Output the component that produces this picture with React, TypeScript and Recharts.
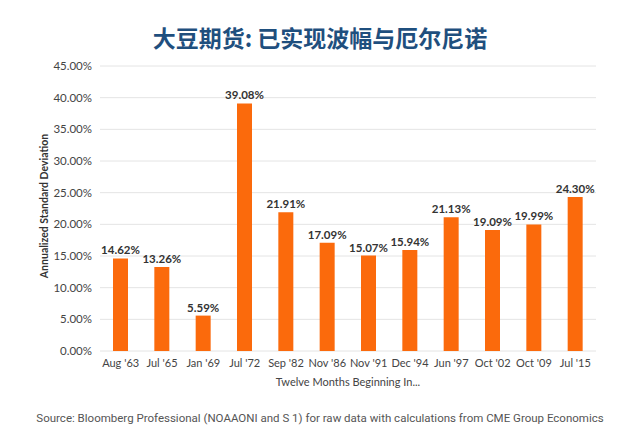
import React from "react";
import { BarChart, Bar, XAxis, YAxis, CartesianGrid, LabelList } from "recharts";

const categories = ["Aug '63", "Jul '65", "Jan '69", "Jul '72", "Sep '82", "Nov '86", "Nov '91", "Dec '94", "Jun '97", "Oct '02", "Oct '09", "Jul '15"];
const volatility = [14.62, 13.26, 5.59, 39.08, 21.91, 17.09, 15.07, 15.94, 21.13, 19.09, 19.99, 24.3];
const yTicks = [0, 5, 10, 15, 20, 25, 30, 35, 40, 45];

const title = "大豆期货: 已实现波幅与厄尔尼诺";
const yLabel = "Annualized Standard Deviation";
const xLabel = "Twelve Months Beginning In...";
const source = "Source: Bloomberg Professional (NOAAONI and S 1) for raw data with calculations from CME Group Economics";

const data = categories.map((c, i) => ({ name: c, value: volatility[i] }));

const fmt = (v: number) => `${Number(v).toFixed(2)}%`;

export default function App() {
  return (
    <div style={{ position: "absolute", left: 0, top: 0, width: 640, height: 444, background: "#fff", overflow: "hidden" }}>
      <div style={{ position: "absolute", left: 0, top: 22, width: 640, textAlign: "center", fontFamily: "'Noto Sans CJK SC', sans-serif", fontWeight: 700, fontSize: 23, color: "#1f4f7e", lineHeight: "30px" }}>
        {title}
      </div>
      <BarChart width={640} height={444} data={data} margin={{ top: 66, right: 44, left: 30, bottom: 53 }}>
        <CartesianGrid vertical={false} stroke="#e4e4e4" />
        <XAxis
          dataKey="name"
          axisLine={false}
          tickLine={false}
          interval={0}
          height={40}
          tick={{ fontFamily: "Lato, sans-serif", fontSize: 11, fill: "#444" }}
        />
        <YAxis
          width={70}
          domain={[0, 45]}
          ticks={yTicks}
          axisLine={false}
          tickLine={false}
          tickFormatter={fmt}
          tick={{ fontFamily: "Lato, sans-serif", fontSize: 11.5, fill: "#444" }}
        />
        <Bar dataKey="value" fill="#fb6a0c" barSize={15} isAnimationActive={false}>
          <LabelList dataKey="value" position="top" offset={4} formatter={fmt} style={{ fontFamily: "Lato, sans-serif", fontSize: 11.5, fontWeight: 700, fill: "#333" }} />
        </Bar>
      </BarChart>
      <div style={{ position: "absolute", left: 44 - 150, top: 206 - 8, width: 300, height: 16, textAlign: "center", transform: "rotate(-90deg)", fontFamily: "Lato, sans-serif", fontWeight: 700, fontSize: 10.5, color: "#333", lineHeight: "16px" }}>
        {yLabel}
      </div>
      <div style={{ position: "absolute", left: 100, top: 374, width: 496, textAlign: "center", fontFamily: "Lato, sans-serif", fontSize: 11, color: "#444", lineHeight: "16px" }}>
        {xLabel}
      </div>
      <div style={{ position: "absolute", left: 0, top: 410, width: 640, textAlign: "center", fontFamily: "Roboto, sans-serif", fontSize: 11.5, color: "#555", lineHeight: "16px" }}>
        {source}
      </div>
    </div>
  );
}
